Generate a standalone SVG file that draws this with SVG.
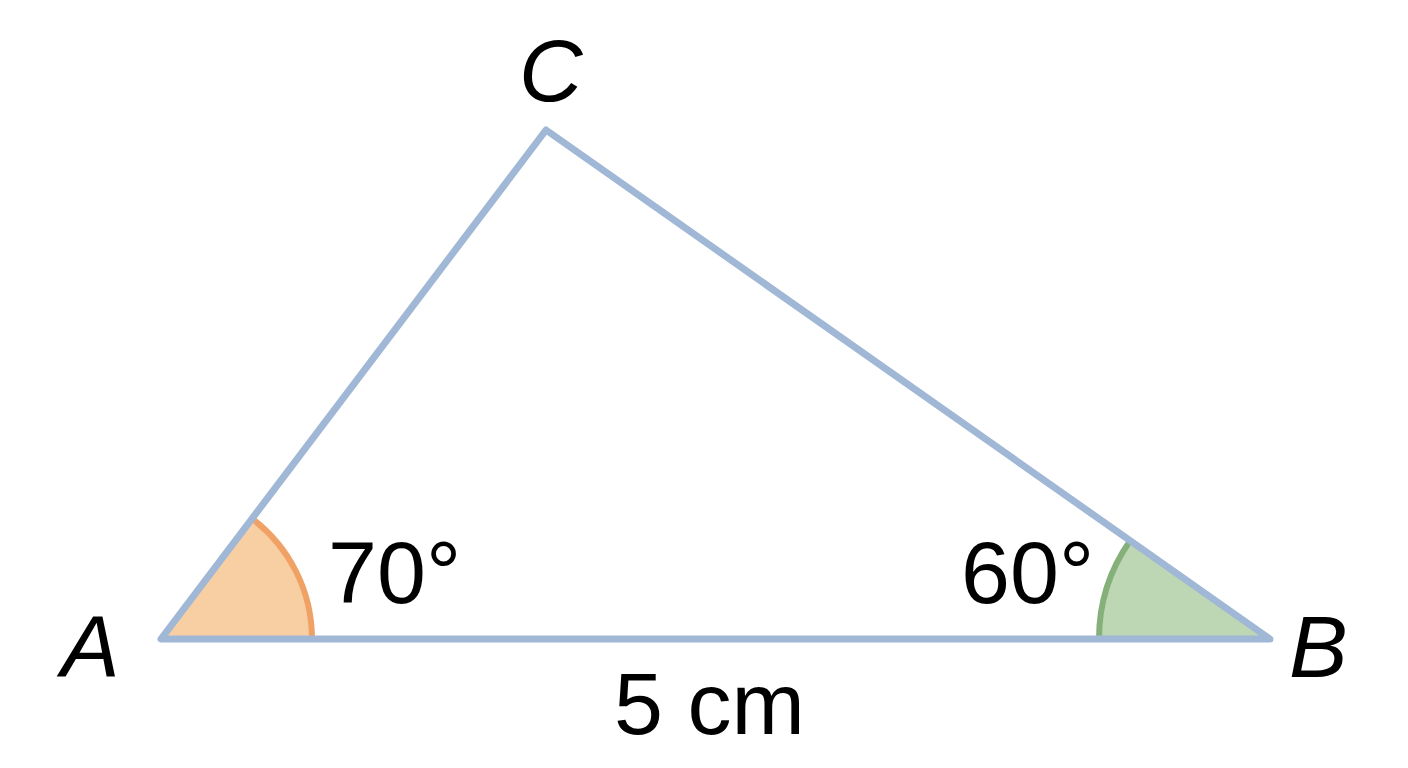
<svg xmlns="http://www.w3.org/2000/svg" width="1408" height="768" viewBox="0 0 1408 768">
<style>
.lbl{font-family:"Liberation Sans",Arial,sans-serif;font-size:88px;fill:#000}
.it{font-style:italic}
.side{fill:none;stroke:#a0b7d6;stroke-width:7;stroke-linecap:round;stroke-linejoin:round}
</style>
<rect width="1408" height="768" fill="#fff"/>
<g id="angleA">
<path d="M161,639 L312,639 A151,151 0 0 0 252.1,518.6 Z" fill="#f8cea3"/>
<path d="M312,639 A151,151 0 0 0 252.1,518.6" fill="none" stroke="#f0a266" stroke-width="6"/>
</g>
<g id="angleB">
<path d="M1270,639 L1099,639 A171,171 0 0 1 1130.1,540.7 Z" fill="#bdd7b4"/>
<path d="M1099,639 A171,171 0 0 1 1130.1,540.7" fill="none" stroke="#86b07a" stroke-width="6"/>
</g>
<g id="connectors">
<path class="side" d="M161,639 L1270,639 L546,130 Z"/>
</g>
<g id="labelC"><text class="lbl it" x="519" y="101">C</text></g>
<g id="labelA"><text class="lbl it" x="61" y="677">A</text></g>
<g id="labelB"><text class="lbl it" x="1289" y="677">B</text></g>
<g id="angleAtext"><text class="lbl" x="328" y="603">70°</text></g>
<g id="angleBtext"><text class="lbl" x="961" y="603">60°</text></g>
<g id="sideAB"><text class="lbl" x="614" y="734">5 cm</text></g>
</svg>
